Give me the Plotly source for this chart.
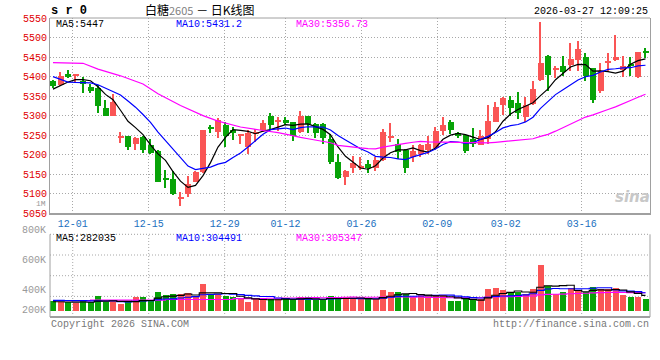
import plotly.graph_objects as go

# ---------------- data ----------------
opens = [5388, 5379, 5407, 5402, 5390, 5374, 5372, 5319, 5300, 5244,
         5247, 5228, 5245, 5224, 5209, 5141, 5137, 5087, 5100, 5131,
         5156, 5270, 5258, 5275, 5262, 5250, 5221, 5252, 5262, 5298,
         5285, 5288, 5283, 5258, 5298, 5278, 5278, 5239, 5181, 5143,
         5165, 5168, 5176, 5167, 5186, 5244, 5228, 5213, 5194, 5203,
         5213, 5218, 5261, 5285, 5256, 5251, 5241, 5226, 5239, 5285,
         5326, 5341, 5333, 5296, 5330, 5392, 5453, 5419, 5426, 5430,
         5443, 5449, 5421, 5362, 5435, 5442, 5418, 5432, 5398, 5466]
closes = [5375, 5402, 5398, 5404, 5381, 5362, 5325, 5300, 5336, 5246,
          5221, 5244, 5211, 5204, 5131, 5137, 5100, 5089, 5125, 5156,
          5262, 5267, 5288, 5249, 5255, 5252, 5255, 5258, 5281, 5275,
          5287, 5283, 5249, 5298, 5278, 5255, 5244, 5181, 5141, 5159,
          5179, 5170, 5165, 5186, 5258, 5246, 5207, 5165, 5210, 5224,
          5227, 5260, 5277, 5262, 5248, 5210, 5228, 5247, 5286, 5323,
          5345, 5319, 5306, 5328, 5368, 5436, 5405, 5423, 5413, 5446,
          5470, 5402, 5339, 5415, 5437, 5451, 5428, 5426, 5462, 5460]
highs = [5391, 5413, 5418, 5406, 5399, 5381, 5379, 5340, 5356, 5258,
         5249, 5246, 5247, 5241, 5211, 5160, 5158, 5104, 5145, 5158,
         5264, 5277, 5295, 5283, 5271, 5254, 5262, 5267, 5288, 5307,
         5296, 5296, 5285, 5313, 5300, 5280, 5280, 5254, 5203, 5162,
         5197, 5193, 5186, 5194, 5265, 5281, 5241, 5215, 5224, 5227,
         5249, 5272, 5296, 5290, 5259, 5253, 5269, 5262, 5328, 5334,
         5347, 5351, 5360, 5349, 5390, 5540, 5455, 5426, 5453, 5487,
         5490, 5460, 5423, 5434, 5460, 5507, 5453, 5451, 5464, 5473]
lows = [5372, 5377, 5396, 5386, 5358, 5357, 5306, 5299, 5299, 5230,
        5211, 5211, 5204, 5202, 5129, 5115, 5098, 5069, 5093, 5129,
        5154, 5255, 5243, 5221, 5237, 5228, 5201, 5232, 5258, 5262,
        5260, 5275, 5235, 5255, 5255, 5244, 5228, 5176, 5137, 5122,
        5152, 5160, 5152, 5159, 5184, 5232, 5190, 5153, 5181, 5193,
        5203, 5211, 5250, 5254, 5244, 5204, 5221, 5224, 5228, 5283,
        5302, 5300, 5292, 5283, 5326, 5390, 5362, 5396, 5402, 5415,
        5415, 5390, 5332, 5357, 5415, 5440, 5398, 5402, 5396, 5447]
volumes = [232000, 225000, 220000, 218000, 236000, 220000, 274000, 220000, 236000, 206000,
           222000, 265000, 262000, 238000, 308000, 282000, 291000, 291000, 299000, 262000,
           376000, 291000, 291000, 274000, 262000, 254000, 225000, 248000, 251000, 251000,
           251000, 251000, 246000, 265000, 265000, 237000, 237000, 274000, 265000, 265000,
           248000, 248000, 248000, 248000, 325000, 308000, 308000, 288000, 265000, 280000,
           280000, 280000, 280000, 234000, 234000, 248000, 248000, 248000, 330000, 341000,
           325000, 297000, 305000, 288000, 330000, 537000, 359000, 291000, 308000, 344000,
           315000, 307000, 349000, 332000, 332000, 340000, 285000, 270000, 270000, 245000]

# moving-average values at the very start (depend on bars before the window)
ma5_head = [5368, 5377, 5386, 5392]
ma10_head = [5400, 5392, 5386, 5385, 5384, 5384, 5379, 5370, 5362]
ma30_head_idx = [0, 4, 6, 9, 12, 14, 17, 20, 22, 25, 28]
ma30_head = [5436, 5434, 5419, 5402, 5381, 5356, 5326, 5300, 5286, 5271, 5262]
vol_ma5_head = [228000, 228000, 226000, 225000]
vol_ma10_head = [240000, 240000, 239000, 238000, 238000, 236000, 236000, 235000, 235000]
vol_ma30_head_idx = [0, 10, 20, 28]
vol_ma30_head = [238000, 242000, 248000, 255000]

# axis labels
date_labels = ["12-01", "12-15", "12-29", "01-12", "01-26", "02-09", "03-02", "03-16"]
date_label_idx = [3, 13, 23, 31, 41, 51, 60, 70]
price_ticks = [5050, 5100, 5150, 5200, 5250, 5300, 5350, 5400, 5450, 5500, 5550]
vol_tick_labels = ["800K", "600K", "400K", "200K"]
ma_price_labels = ["MA5:5447", "MA10:5431.2", "MA30:5356.73"]
ma_vol_labels = ["MA5:282035", "MA10:304491", "MA30:305347"]

# ---------------- styling ----------------
RED = "#fa5555"
GREEN = "#08a308"
MA_COLORS = ["#000000", "#0000ff", "#ff00ff"]
GRID = "#a8a8a8"
FRAME = "#a0a0a0"
MONO = "Liberation Mono, DejaVu Sans Mono, monospace"

n = len(closes)
idx = list(range(n))
colors = [RED if c >= o else GREEN for o, c in zip(opens, closes)]


def rolling(vals, w):
    out = [None] * len(vals)
    for i in range(w - 1, len(vals)):
        out[i] = sum(vals[i - w + 1:i + 1]) / w
    return out


ma5 = ma5_head + rolling(closes, 5)[4:]
ma10 = ma10_head + rolling(closes, 10)[9:]
ma30_x = ma30_head_idx + idx[29:]
ma30 = ma30_head + rolling(closes, 30)[29:]
vma5 = vol_ma5_head + rolling(volumes, 5)[4:]
vma10 = vol_ma10_head + rolling(volumes, 10)[9:]
vma30_x = vol_ma30_head_idx + idx[29:]
vma30 = vol_ma30_head + rolling(volumes, 30)[29:]

# pixel helpers (plot area: x 50..650, y 18..317)
def px(x):
    return (x - 50) / 600.0


def py(y):
    return (317 - y) / 299.0


tick_pos = [1.0128 * i - 0.408 for i in date_label_idx]

fig = go.Figure()

# wicks
fig.add_trace(go.Bar(x=idx, y=[h - l for h, l in zip(highs, lows)], base=lows,
                     width=0.15, marker=dict(color=colors, line=dict(width=0)),
                     hoverinfo="skip", xaxis="x", yaxis="y"))
# bodies
fig.add_trace(go.Bar(x=idx, y=[max(abs(c - o), 2.6) for o, c in zip(opens, closes)],
                     base=[min(o, c) for o, c in zip(opens, closes)],
                     width=0.8, marker=dict(color=colors, line=dict(width=0)),
                     hoverinfo="skip", xaxis="x", yaxis="y"))
# price MAs
for xs, ys, col in [(idx, ma5, MA_COLORS[0]), (idx, ma10, MA_COLORS[1]), (ma30_x, ma30, MA_COLORS[2])]:
    fig.add_trace(go.Scatter(x=xs, y=ys, mode="lines", line=dict(color=col, width=1.2),
                             hoverinfo="skip", xaxis="x", yaxis="y"))

# volume bars
fig.add_trace(go.Bar(x=idx, y=volumes, width=0.8, marker=dict(color=colors, line=dict(width=0)),
                     hoverinfo="skip", xaxis="x2", yaxis="y2"))
for xs, ys, col in [(vma30_x, vma30, MA_COLORS[2]), (idx, vma10, MA_COLORS[1]), (idx, vma5, MA_COLORS[0])]:
    fig.add_trace(go.Scatter(x=xs, y=ys, mode="lines", line=dict(color=col, width=1.1, shape="hvh"),
                             hoverinfo="skip", xaxis="x2", yaxis="y2"))

XR = [-0.4, 79.6]
fig.update_layout(
    width=660, height=360,
    margin=dict(l=50, r=10, t=18, b=43, autoexpand=False),
    paper_bgcolor="white", plot_bgcolor="white",
    showlegend=False, barmode="overlay", bargap=0,
    font=dict(family=MONO, size=10, color="#000"),
    xaxis=dict(domain=[0, 1], anchor="y", range=XR, tickmode="array", automargin=False,
               tickvals=tick_pos, ticktext=date_labels, ticks="",
               tickfont=dict(family=MONO, size=10, color="#1a70c0"),
               showgrid=True, gridcolor=GRID, griddash="1px,2px", gridwidth=1,
               showline=True, linecolor=FRAME, linewidth=2, zeroline=False),
    yaxis=dict(domain=[py(213.3), 1], anchor="x", range=[5050, 5550], automargin=False,
               tickmode="array", tickvals=price_ticks,
               tickfont=dict(family=MONO, size=10, color="#e00000"), ticks="",
               showgrid=True, gridcolor=GRID, griddash="1px,2px", gridwidth=1,
               showline=True, linecolor=FRAME, linewidth=1, mirror=True, zeroline=False),
    xaxis2=dict(domain=[0, 1], anchor="y2", range=XR, showticklabels=False, ticks="", automargin=False,
                showgrid=False, showline=False, zeroline=False),
    yaxis2=dict(domain=[py(311), py(234.3)], anchor="x2", range=[150000, 800000], automargin=False,
                showticklabels=False, ticks="", showgrid=False, showline=False, zeroline=False),
)

shapes = []
# main panel top border
shapes.append(dict(type="line", xref="paper", yref="paper", x0=0, x1=1, y0=1, y1=1,
                   line=dict(color=FRAME, width=1), layer="above"))
# volume frame
vt = py(234.3)
shapes.append(dict(type="line", xref="paper", yref="paper", x0=0, x1=0, y0=0, y1=vt,
                   line=dict(color=FRAME, width=1), layer="above"))
shapes.append(dict(type="line", xref="paper", yref="paper", x0=1, x1=1, y0=0, y1=vt,
                   line=dict(color=FRAME, width=1), layer="above"))
shapes.append(dict(type="line", xref="paper", yref="paper", x0=0, x1=1, y0=vt, y1=vt,
                   line=dict(color=FRAME, width=1, dash="1px,2px"), layer="above"))
shapes.append(dict(type="line", xref="paper", yref="paper", x0=0, x1=1, y0=0, y1=0,
                   line=dict(color=FRAME, width=2), layer="above"))
# volume grid
for gy in [255, 275.7, 296.4]:
    shapes.append(dict(type="line", xref="paper", yref="paper", x0=0, x1=1, y0=py(gy), y1=py(gy),
                       line=dict(color=GRID, width=1, dash="1px,2px"), layer="below"))
for tp in tick_pos:
    shapes.append(dict(type="line", xref="x2", yref="paper", x0=tp, x1=tp, y0=0, y1=vt,
                       line=dict(color=GRID, width=1, dash="1px,2px"), layer="below"))
fig.update_layout(shapes=shapes)

ann = []


def text(x, y, s, color="#000", size=10, xanchor="left", family=MONO, **kw):
    ann.append(dict(x=px(x), y=py(y), xref="paper", yref="paper", text=s, showarrow=False,
                    xanchor=xanchor, yanchor="middle", font=dict(family=family, size=size, color=color),
                    borderpad=0, **kw))


text(50, 11, "<b>s r 0</b>", size=12)
text(200, 9, "白糖<span style='color:#808080;font-size:11px'>2605</span> － 日K线图",
     size=12, xanchor="center", family="Noto Sans CJK SC, sans-serif")
text(649, 11, "2026-03-27 12:09:25", xanchor="right")
for xx, s, col in zip([55, 175, 295], ma_price_labels, MA_COLORS):
    text(xx, 24.5, s, color=col)
for xx, s, col in zip([55, 175, 295], ma_vol_labels, MA_COLORS):
    text(xx, 238.5, s, color=col)
for yy, s in zip([230, 260, 290, 310], vol_tick_labels):
    text(47, yy, s, color="#999999", xanchor="right")
text(47, 203.5, "1M", color="#999999", size=8, xanchor="right")
text(50, 324, "Copyright 2026 SINA.COM", color="#777777")
text(650, 324, "http://finance.sina.com.cn", color="#777777", xanchor="right")
text(651, 197, "<i><b>sina</b></i>", color="#c8c8c8", size=15, xanchor="right",
     family="DejaVu Sans, sans-serif")
fig.update_layout(annotations=ann)

fig.write_html("out.html", config={"displayModeBar": False},
               post_script="document.body.style.margin='0';document.body.style.padding='0';"
                           "document.body.style.overflow='hidden';")
